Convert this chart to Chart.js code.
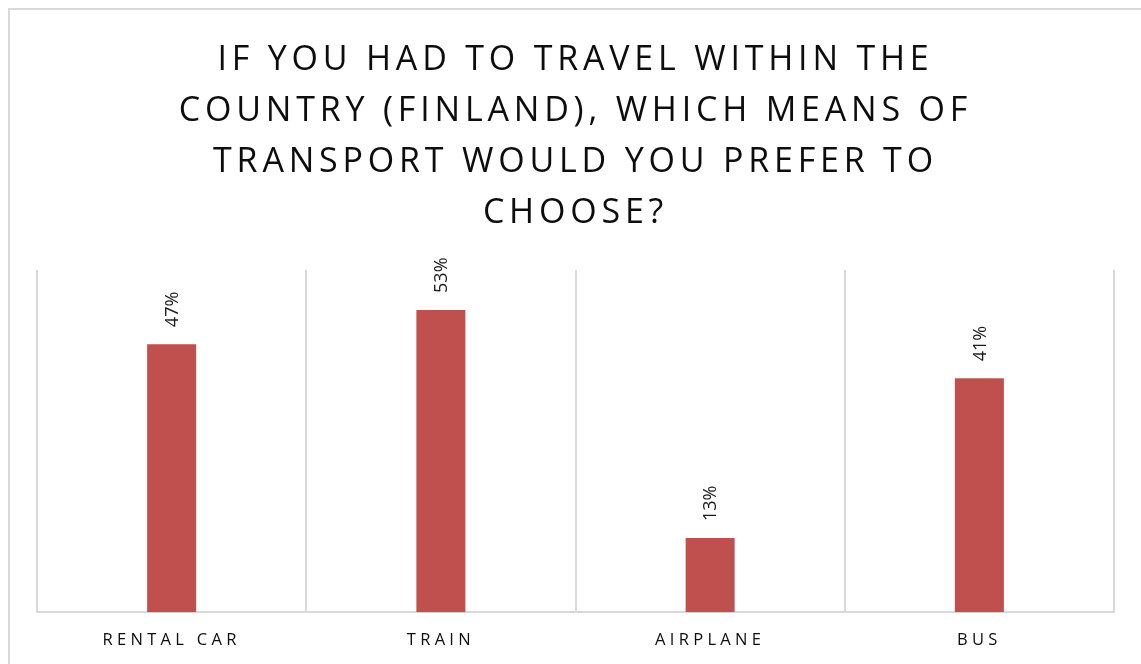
<!DOCTYPE html>
<html>
<head>
<meta charset="utf-8">
<script src="https://cdn.jsdelivr.net/npm/chart.js@4"></script>
<style>
  html, body { margin: 0; padding: 0; background: #fff; overflow: hidden; height: 664px; }
  #frame {
    position: absolute; left: 8px; top: 8px;
    width: 1200px; height: 720px;
    border: 2px solid #d9d9d9;
    box-sizing: border-box;
  }
  #title {
    position: absolute; left: 0; width: 1151px; top: 32px;
    margin: 0; text-align: center;
    font-family: "Open Sans", sans-serif; font-weight: 400;
    font-size: 34px; line-height: 51px; letter-spacing: 4.8px;
    color: #0d0d0d;
  }
  #wrap { position: absolute; left: 0; top: 0; width: 1141px; height: 668px; }
</style>
</head>
<body>
<div id="frame"></div>
<div id="wrap"><canvas id="chart"></canvas></div>
<h1 id="title">IF YOU HAD TO TRAVEL WITHIN THE<br>COUNTRY (FINLAND), WHICH MEANS OF<br>TRANSPORT WOULD YOU PREFER TO<br>CHOOSE?</h1>
<script>
const categories = ['RENTAL CAR', 'TRAIN', 'AIRPLANE', 'BUS'];
const shares = [47, 53, 13, 41];   // percent of respondents
const tickLabels = categories;

const ctx = document.getElementById('chart');

// tick labels are letter-spaced, everything drawn after them is not
const spacing = {
  id: 'spacing',
  beforeDraw(chart) { chart.ctx.letterSpacing = '4.3px'; },
  beforeDatasetsDraw(chart) { chart.ctx.letterSpacing = '0px'; }
};

// rotated percentage above each bar
const barLabels = {
  id: 'barLabels',
  afterDatasetsDraw(chart) {
    const c = chart.ctx;
    const meta = chart.getDatasetMeta(0);
    c.save();
    c.letterSpacing = '0px';
    c.font = '18px "Open Sans", sans-serif';
    c.fillStyle = '#1a1a1a';
    c.textAlign = 'left';
    c.textBaseline = 'middle';
    meta.data.forEach((bar, i) => {
      c.save();
      c.translate(bar.x + 1, bar.y - 17);
      c.rotate(-Math.PI / 2);
      c.fillText(shares[i] + '%', 0, 0);
      c.restore();
    });
    c.restore();
  }
};

new Chart(ctx, {
  type: 'bar',
  data: {
    labels: tickLabels,
    datasets: [{
      data: shares,
      backgroundColor: '#c0504d',
      borderWidth: 0,
      categoryPercentage: 1,
      barPercentage: 0.182
    }]
  },
  options: {
    responsive: true,
    maintainAspectRatio: false,
    animation: false,
    layout: {
      padding: { left: 37, right: 27, top: 270, bottom: 0 }
    },
    plugins: {
      legend: { display: false },
      tooltip: { enabled: false }
    },
    scales: {
      x: {
        grid: {
          color: '#d9d9d9',
          lineWidth: 2,
          drawTicks: false
        },
        border: { color: '#d9d9d9', width: 2 },
        ticks: {
          color: '#0d0d0d',
          padding: 18,
          font: { family: '"Open Sans", sans-serif', size: 16.5 }
        }
      },
      y: {
        display: false,
        min: 0,
        max: 60
      }
    }
  },
  plugins: [spacing, barLabels]
});
</script>
</body>
</html>
